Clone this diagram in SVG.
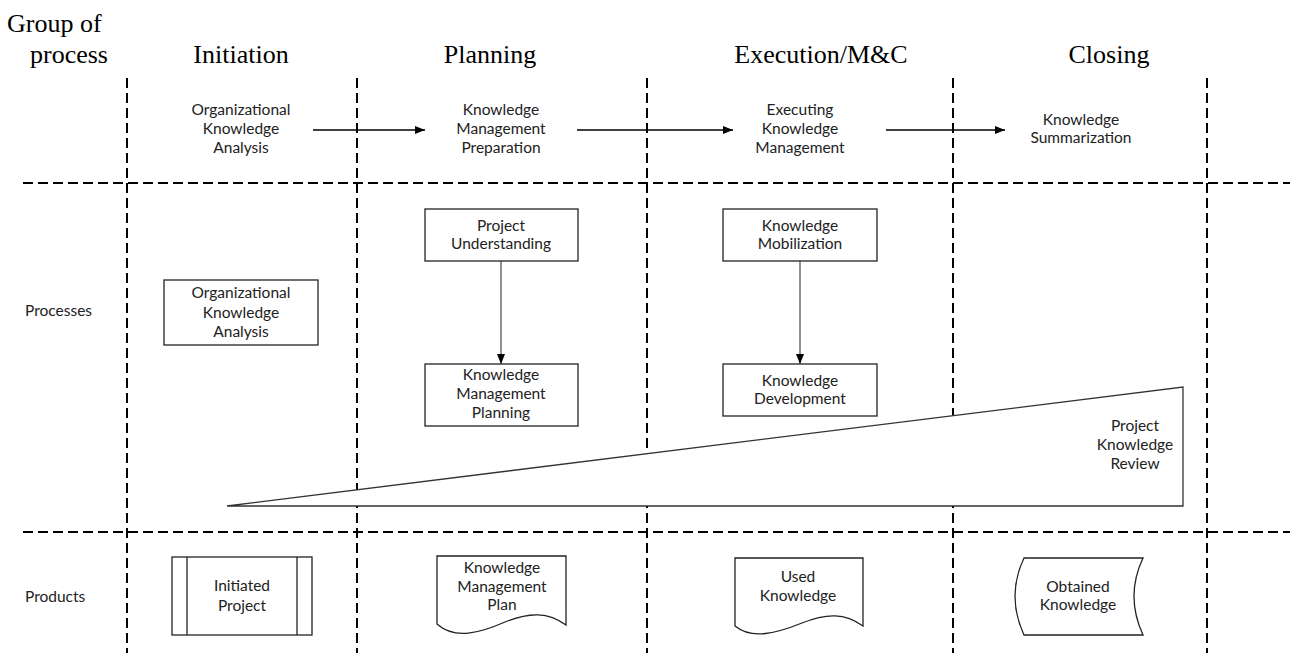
<svg xmlns="http://www.w3.org/2000/svg" width="1290" height="653" viewBox="0 0 1290 653">
<style>
.hdr{font-family:"Liberation Serif","Times New Roman",serif;font-size:26px;fill:#000}
.t{font-family:Lato,"Liberation Sans",sans-serif;font-size:15.5px;fill:#222;text-anchor:middle}
.lbl{font-family:Lato,"Liberation Sans",sans-serif;font-size:15.5px;fill:#222}
.grid{stroke:#000;stroke-width:2;stroke-dasharray:10 5;fill:none}
.box{fill:#fff;stroke:#222;stroke-width:1.3}
.flow{stroke:#000;stroke-width:1.3;fill:none}
.flowg{stroke:#555;stroke-width:1.3;fill:none}
</style>
<defs>
<marker id="ah" viewBox="0 0 10 8" refX="10" refY="4" markerWidth="10" markerHeight="8" markerUnits="userSpaceOnUse" orient="auto">
<path d="M0,0 L10,4 L0,8 Z" fill="#000"/>
</marker>
</defs>
<rect width="1290" height="653" fill="#fff"/>

<g id="grid">
<line class="grid" x1="127" y1="78" x2="127" y2="653"/>
<line class="grid" x1="357" y1="78" x2="357" y2="653"/>
<line class="grid" x1="647" y1="78" x2="647" y2="653"/>
<line class="grid" x1="953" y1="78" x2="953" y2="653"/>
<line class="grid" x1="1207" y1="78" x2="1207" y2="653"/>
<line class="grid" x1="23" y1="183" x2="1290" y2="183"/>
<line class="grid" x1="23" y1="532" x2="1290" y2="532"/>
</g>

<g id="headers">
<text class="hdr" x="7" y="32">Group of</text>
<text class="hdr" x="30" y="63">process</text>
<text class="hdr" x="241" y="63" text-anchor="middle">Initiation</text>
<text class="hdr" x="490" y="63" text-anchor="middle">Planning</text>
<text class="hdr" x="821" y="63" text-anchor="middle">Execution/M&amp;C</text>
<text class="hdr" x="1109" y="63" text-anchor="middle">Closing</text>
<text class="lbl" x="25" y="316">Processes</text>
<text class="lbl" x="25" y="602">Products</text>
</g>

<g id="connectors">
<line class="flow" x1="313" y1="130" x2="425" y2="130" marker-end="url(#ah)"/>
<line class="flow" x1="577" y1="130" x2="733" y2="130" marker-end="url(#ah)"/>
<line class="flow" x1="886" y1="130" x2="1005" y2="130" marker-end="url(#ah)"/>
<line class="flowg" x1="501" y1="261" x2="501" y2="364" marker-end="url(#ah)"/>
<line class="flowg" x1="800" y1="261" x2="800" y2="364" marker-end="url(#ah)"/>
</g>

<g id="phase-oka">
<text class="t" x="241" y="115">Organizational</text>
<text class="t" x="241" y="134">Knowledge</text>
<text class="t" x="241" y="153">Analysis</text>
</g>
<g id="phase-kmp">
<text class="t" x="501" y="115">Knowledge</text>
<text class="t" x="501" y="134">Management</text>
<text class="t" x="501" y="153">Preparation</text>
</g>
<g id="phase-ekm">
<text class="t" x="800" y="115">Executing</text>
<text class="t" x="800" y="134">Knowledge</text>
<text class="t" x="800" y="153">Management</text>
</g>
<g id="phase-ks">
<text class="t" x="1081" y="125">Knowledge</text>
<text class="t" x="1081" y="143">Summarization</text>
</g>

<g id="proc-oka">
<rect class="box" x="164" y="280" width="154" height="65"/>
<text class="t" x="241" y="298">Organizational</text>
<text class="t" x="241" y="318">Knowledge</text>
<text class="t" x="241" y="337">Analysis</text>
</g>
<g id="proc-pu">
<rect class="box" x="425" y="209" width="153" height="52"/>
<text class="t" x="501" y="231">Project</text>
<text class="t" x="501" y="249">Understanding</text>
</g>
<g id="proc-kmpl">
<rect class="box" x="425" y="364" width="153" height="62"/>
<text class="t" x="501" y="380">Knowledge</text>
<text class="t" x="501" y="399">Management</text>
<text class="t" x="501" y="418">Planning</text>
</g>
<g id="proc-kmob">
<rect class="box" x="723" y="209" width="154" height="52"/>
<text class="t" x="800" y="231">Knowledge</text>
<text class="t" x="800" y="249">Mobilization</text>
</g>
<g id="proc-kdev">
<rect class="box" x="723" y="364" width="154" height="52"/>
<text class="t" x="800" y="386">Knowledge</text>
<text class="t" x="800" y="404">Development</text>
</g>
<g id="proc-pkr">
<path d="M227,506 L1183,387 L1183,506 Z" fill="#fff" stroke="#333" stroke-width="1.3"/>
<text class="t" x="1135" y="431">Project</text>
<text class="t" x="1135" y="450">Knowledge</text>
<text class="t" x="1135" y="469">Review</text>
</g>

<g id="prod-ip">
<rect class="box" x="172" y="557" width="140" height="78"/>
<line x1="187" y1="557" x2="187" y2="635" stroke="#222" stroke-width="1.3"/>
<line x1="297" y1="557" x2="297" y2="635" stroke="#222" stroke-width="1.3"/>
<text class="t" x="242" y="591">Initiated</text>
<text class="t" x="242" y="611">Project</text>
</g>
<g id="prod-kmp">
<path class="box" d="M437,556 H566 V625 C548,612 530,612 505,622 C480,633 455,640 437,624 Z"/>
<text class="t" x="502" y="573">Knowledge</text>
<text class="t" x="502" y="592">Management</text>
<text class="t" x="502" y="610">Plan</text>
</g>
<g id="prod-uk">
<path class="box" d="M735,558 H863 V626 C845,613 827,613 802,623 C777,633 752,640 735,626 Z"/>
<text class="t" x="798" y="582">Used</text>
<text class="t" x="798" y="601">Knowledge</text>
</g>
<g id="prod-ok">
<path class="box" d="M1024,558 L1143,558 Q1125,596 1143,635 L1024,635 Q1006,596 1024,558 Z"/>
<text class="t" x="1078" y="592">Obtained</text>
<text class="t" x="1078" y="610">Knowledge</text>
</g>
</svg>
